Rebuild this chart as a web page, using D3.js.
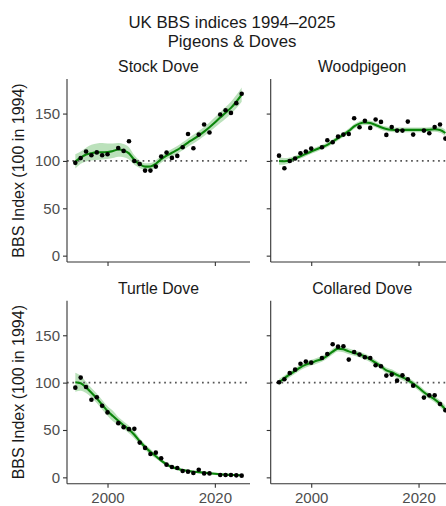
<!DOCTYPE html>
<html>
<head>
<meta charset="utf-8">
<script src="https://cdn.jsdelivr.net/npm/d3@7"></script>
<style>
  html, body { margin: 0; padding: 0; background: #fff; overflow: hidden; }
  svg { display: block; font-family: "Liberation Sans", Arial, Helvetica, sans-serif; }
</style>
</head>
<body>
<svg id="chart" width="446" height="506"></svg>
<script>
// Survey years; 2001 and 2020 have no index (no national survey those years)
const years = d3.range(1994, 2026);
const species = ["Stock Dove", "Woodpigeon", "Turtle Dove", "Collared Dove"];
const xTicks = [2000, 2020];
const yTicks = [0, 50, 100, 150];
const baseline = 100;

// Annual index values (null = no survey)
const stockDoveIndex = [98, 103, 110, 106, 109, 106, 107, null, 113.7, 110.6, 120.8, 100, 96.8, 89.8, 89.8, 94,
  104.6, 108.8, 103.2, 105.3, 114.4, 128.5, 113.4, 127.8, 138.4, 130, null, 149, 153.5, 150.7, 161, 171];
const woodpigeonIndex = [105.6, 92.3, 100, 102.5, 108, 109.9, 113, null, 114.4, 121.8, 119.7, 125.7, 127.8, 128.5, 145, 135.6,
  142.3, 134.9, 143.7, 141.2, 127.5, 135.9, 132, 132, 141.5, 127.8, null, 132, 129.2, 135.9, 138.4, 123.6];
const turtleDoveIndex = [94.7, 105.3, 95.4, 82, 84.5, 75.6, 68.6, null, 57.2, 53, 50.9, 51.2, 36.7, 31.1, 24.7, 26.1,
  20.1, 13.4, 11, 9.9, 6.7, 6, 4.6, 8.1, 4.2, 4.2, null, 2.5, 2.5, 2.5, 2.1, 1.8];
const collaredDoveIndex = [100.4, 103.5, 110.2, 113.7, 120, 122.2, 121.1, null, 126, 130.3, 140.5, 138, 138.4, 124.3, 132.4, 129.6,
  126.8, 126, 118.3, 117.3, 107.4, 108.5, 102.1, 107.7, 103.5, 96.8, null, 84.2, 86.6, 86.6, 77.5, 70.8];

// Smoothed trends
const stockDoveSmooth = [99.3, 103.5, 106.7, 108.2, 109, 109.2, 109.3, 110.5, 112, 111, 108, 101, 96.5, 94, 94.2, 97,
  101.8, 105.6, 108.6, 111.6, 115.5, 119.4, 123, 126.8, 131, 135.6, 140.6, 145.8, 150.8, 156, 162.5, 170];
const woodpigeonSmooth = [100, 99.6, 100.7, 102.8, 105, 107.5, 110, 112.3, 114.6, 117, 120.4, 124, 127.8, 131.7, 136.4, 139.4,
  140.5, 140, 138, 135.5, 133.8, 133, 132.7, 132.7, 132.8, 132.8, 132.8, 132.8, 133, 133.4, 132.7, 129.5];
const turtleDoveSmooth = [100.4, 99.3, 95, 89.4, 83.4, 76.7, 70, 64.7, 59.7, 55, 50.5, 44.9, 38.2, 32, 26.9, 22.3,
  17.7, 13.8, 11, 9.2, 7.8, 6.7, 6, 5.5, 4.9, 4.3, 3.8, 3.2, 2.8, 2.6, 2.4, 2.2];
const collaredDoveSmooth = [100.4, 104.6, 108.8, 112.3, 116.2, 119, 121.1, 123, 125, 128.5, 132.7, 135.9, 135.2, 133, 131.3, 129.6,
  127.5, 124.6, 121, 117.3, 113, 111, 108, 105.6, 102.8, 99, 94.7, 89.8, 85.9, 82.4, 77.8, 71.8];

// Confidence limits of the smoothed trends
const stockDoveLower = [92, 97, 99.5, 100.5, 101, 101.5, 102, 103, 104.5, 104, 101.5, 96, 92.5, 90.5, 90.6, 93.3,
  98, 101.7, 104.6, 107.4, 111.2, 115, 118.4, 122, 126.2, 130.6, 135.2, 140, 144.6, 149.5, 155.5, 162.5];
const stockDoveUpper = [107, 110, 114, 117, 118.5, 119, 118.5, 118.5, 119, 118, 114.5, 106, 100.5, 97.5, 97.8, 100.7,
  105.5, 109.5, 112.6, 115.8, 119.8, 123.8, 127.6, 131.5, 135.8, 140.6, 146, 151.5, 157, 162.5, 169.5, 177.5];
const woodpigeonLower = [96, 96.1, 97.7, 100.2, 102.5, 105, 107.5, 109.8, 112.1, 114.5, 117.9, 121.5, 125.3, 129.2, 133.9, 136.9,
  138, 137.5, 135.5, 133, 131.3, 130.5, 130.2, 130.2, 130.3, 130.3, 130.3, 130.3, 130.5, 130.7, 129.7, 126];
const woodpigeonUpper = [104, 103.1, 103.7, 105.4, 107.5, 110, 112.5, 114.8, 117.1, 119.5, 122.9, 126.5, 130.3, 134.2, 138.9, 141.9,
  143, 142.5, 140.5, 138, 136.3, 135.5, 135.2, 135.2, 135.3, 135.3, 135.3, 135.3, 135.5, 136.1, 135.7, 133];
const turtleDoveLower = [90.4, 91.3, 89, 84.4, 78.4, 71.7, 65, 59.2, 55.7, 51, 46.5, 40.9, 35.2, 29, 23.9, 19.8,
  15.7, 11.8, 9.2, 7.6, 6.5, 5.5, 4.8, 4.3, 3.7, 3.1, 2.6, 2.1, 1.7, 1.5, 1.4, 1.2];
const turtleDoveUpper = [110.4, 107.3, 101, 94.4, 88.4, 81.7, 75, 70.2, 63.7, 59, 54.5, 48.9, 41.2, 35, 29.9, 24.8,
  19.7, 15.8, 12.8, 10.8, 9.1, 7.9, 7.2, 6.7, 6.1, 5.5, 5, 4.3, 3.9, 3.7, 3.4, 3.2];
const collaredDoveLower = [96.9, 101.6, 105.8, 109.3, 113.2, 116, 118.1, 120, 122, 125.5, 129.7, 132.9, 132.2, 130, 128.3, 126.6,
  124.5, 121.6, 118, 114.3, 110, 108, 105, 102.6, 99.8, 96, 91.7, 86.8, 82.9, 79.2, 74.3, 67.8];
const collaredDoveUpper = [103.9, 107.6, 111.8, 115.3, 119.2, 122, 124.1, 126, 128, 131.5, 135.7, 138.9, 138.2, 136, 134.3, 132.6,
  130.5, 127.6, 124, 120.3, 116, 114, 111, 108.6, 105.8, 102, 97.7, 92.8, 88.9, 85.6, 81.3, 75.8];

const indexSeries = [stockDoveIndex, woodpigeonIndex, turtleDoveIndex, collaredDoveIndex];
const smoothSeries = [stockDoveSmooth, woodpigeonSmooth, turtleDoveSmooth, collaredDoveSmooth];
const lowerSeries = [stockDoveLower, woodpigeonLower, turtleDoveLower, collaredDoveLower];
const upperSeries = [stockDoveUpper, woodpigeonUpper, turtleDoveUpper, collaredDoveUpper];

// ---- layout ----
const svg = d3.select("#chart");
const colX = [67, 270.7];
const rowY = [79, 300.7];
const panelW = 183, panelH = 183;
const axisColor = "#333333";
const textColor = "#1a1a1a";
const tickTextColor = "#4d4d4d";

const x = d3.scaleLinear().domain([1992.45, 2026.55]).range([0, panelW]);
const y = d3.scaleLinear().domain([-6.7, 186.5]).range([panelH, 0]);

// Title
const title = svg.append("g").attr("fill", textColor).attr("text-anchor", "middle")
  .style("font-size", "16.8px");
title.append("text").attr("x", 232).attr("y", 27.5).text("UK BBS indices 1994\u20132025");
title.append("text").attr("x", 232).attr("y", 46.8).text("Pigeons & Doves");

species.forEach((name, i) => {
  const col = i % 2, row = Math.floor(i / 2);
  const g = svg.append("g").attr("transform", `translate(${colX[col]},${rowY[row]})`);

  // strip label
  g.append("text")
    .attr("x", panelW / 2).attr("y", -7)
    .attr("text-anchor", "middle")
    .attr("fill", textColor)
    .style("font-size", "15.8px")
    .text(name);

  // confidence ribbon
  const ribbon = years.map((yr, k) => ({ yr, lo: lowerSeries[i][k], hi: upperSeries[i][k] }));
  g.append("path")
    .datum(ribbon)
    .attr("fill", "#5cb85c")
    .attr("fill-opacity", 0.42)
    .attr("d", d3.area().curve(d3.curveMonotoneX)
      .x(d => x(d.yr)).y0(d => y(d.lo)).y1(d => y(d.hi)));

  // baseline reference
  g.append("line")
    .attr("x1", 0).attr("x2", panelW)
    .attr("y1", y(baseline)).attr("y2", y(baseline))
    .attr("stroke", "#555").attr("stroke-width", 1.7)
    .attr("stroke-dasharray", "1.7 3.7");

  // smoothed trend
  const trend = years.map((yr, k) => ({ yr, v: smoothSeries[i][k] }));
  g.append("path")
    .datum(trend)
    .attr("fill", "none")
    .attr("stroke", "#0b850b")
    .attr("stroke-width", 2.1)
    .attr("d", d3.line().curve(d3.curveMonotoneX).x(d => x(d.yr)).y(d => y(d.v)));

  // annual indices
  const pts = years.map((yr, k) => ({ yr, v: indexSeries[i][k] })).filter(d => d.v !== null);
  g.selectAll("circle.pt").data(pts).join("circle")
    .attr("class", "pt")
    .attr("cx", d => x(d.yr)).attr("cy", d => y(d.v))
    .attr("r", 2.3).attr("fill", "#000");

  // axes
  const yAxis = d3.axisLeft(y).tickValues(yTicks).tickSize(4).tickPadding(3)
    .tickFormat(col === 0 ? d3.format("d") : () => "");
  const ya = g.append("g").call(yAxis);
  const xAxis = d3.axisBottom(x).tickValues(xTicks).tickSize(4).tickPadding(5)
    .tickFormat(row === 1 ? d3.format("d") : () => "");
  const xa = g.append("g").attr("transform", `translate(0,${panelH})`).call(xAxis);

  [ya, xa].forEach(a => {
    a.select(".domain").attr("stroke", axisColor).attr("stroke-width", 1.1);
    a.selectAll(".tick line").attr("stroke", axisColor).attr("stroke-width", 1.1);
    a.selectAll(".tick text").attr("fill", tickTextColor)
      .style("font-size", "15px").style("font-family", "'Liberation Sans', Arial, sans-serif");
  });
  // axis lines without the end caps
  ya.select(".domain").attr("d", `M0,${panelH}V0`);
  xa.select(".domain").attr("d", `M0,0H${panelW}`);

  // y axis title on the left column
  if (col === 0) {
    svg.append("text")
      .attr("transform", `translate(24,${rowY[row] + panelH / 2}) rotate(-90)`)
      .attr("text-anchor", "middle")
      .attr("fill", textColor)
      .style("font-size", "16px")
      .text("BBS Index (100 in 1994)");
  }
});
</script>
</body>
</html>
